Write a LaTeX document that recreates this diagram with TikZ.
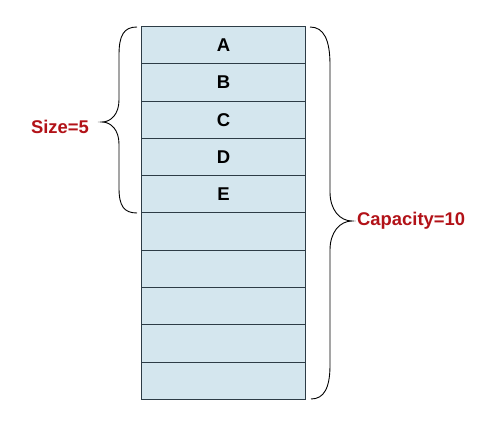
\documentclass[tikz,border=0pt]{standalone}
\usepackage{fontspec}
\setmainfont{Liberation Sans}
\definecolor{cellfill}{RGB}{212,230,238}
\definecolor{cellline}{RGB}{45,60,70}
\definecolor{labred}{RGB}{178,18,24}
\tikzset{
  cell/.style={draw=cellline, line width=0.9pt, fill=cellfill, minimum width=164pt, minimum height=37.3pt, inner sep=0pt, anchor=north west, font=\fontsize{18.5}{20}\selectfont\bfseries},
  bracestyle/.style={draw=black, line width=0.9pt},
  lab/.style={text=labred, font=\fontsize{18.4}{20}\selectfont\bfseries, inner sep=0pt}
}
\begin{document}
\begin{tikzpicture}[x=1pt,y=-1pt]
\useasboundingbox (0,0) rectangle (500,438);
\foreach \i/\t in {0/A,1/B,2/C,3/D,4/E,5/,6/,7/,8/,9/} {
  \node[cell] (c\i) at (141,{26+37.3*\i}) {\t};
}
\coordinate (lt) at (137,27);
\coordinate (lb) at (137,213);
\coordinate (ltip) at (102,122);
\coordinate (rt) at (310,27);
\coordinate (rb) at (311,399);
\coordinate (rtip) at (352,221);
\draw[bracestyle] (lt) .. controls (124,27) and (119,35) .. (119,55) -- (119,100)
  .. controls (119,114) and (111,122) .. (ltip)
  .. controls (111,122) and (119,130) .. (119,144) -- (119,188)
  .. controls (119,206) and (124,213) .. (lb);
\draw[bracestyle] (rt) .. controls (324,27) and (330,40) .. (330,65) -- (330,192)
  .. controls (330,210) and (340,221) .. (rtip)
  .. controls (340,221) and (330,232) .. (330,250) -- (330,365)
  .. controls (330,388) and (324,399) .. (rb);
\node[lab, anchor=east] (size) at (89,127) {Size=5};
\node[lab, anchor=west] (cap) at (357,221) {Capacity=10};
\end{tikzpicture}
\end{document}
